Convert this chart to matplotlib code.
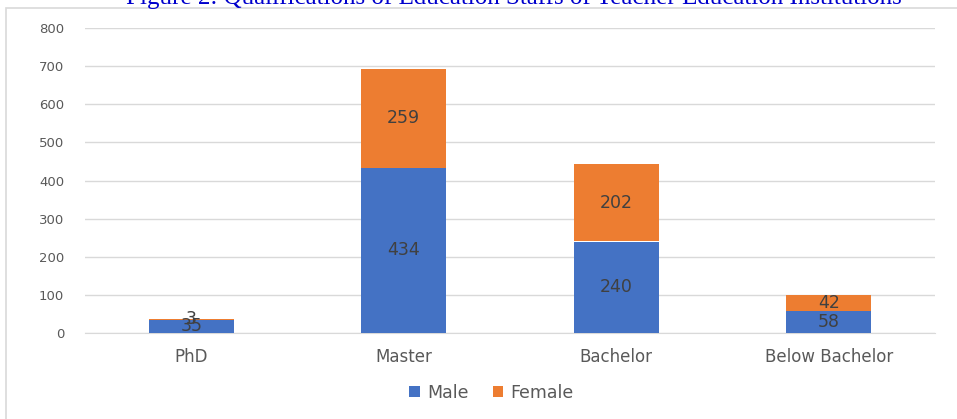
import matplotlib
matplotlib.use("Agg")
import matplotlib.pyplot as plt
from matplotlib.patches import Rectangle
import numpy as np

categories = ["PhD", "Master", "Bachelor", "Below Bachelor"]
male = [35, 434, 240, 58]
female = [3, 259, 202, 42]
yticks = [0, 100, 200, 300, 400, 500, 600, 700, 800]

BLUE = "#4472C4"
ORANGE = "#ED7D31"
GRAY = "#595959"

fig = plt.figure(figsize=(9.57, 4.19), dpi=100)
ax = fig.add_axes([85 / 957, 1 - 333 / 419, 850 / 957, 305 / 419])

# chart area border
fig.patches.append(Rectangle((6 / 957, -0.01), 1.0, 1 - 8 / 419 + 0.01,
                             transform=fig.transFigure, fill=False,
                             edgecolor="#d9d9d9", linewidth=1.2))

x = np.arange(len(categories))
ax.bar(x, male, width=0.4, color=BLUE, label="Male", zorder=3)
ax.bar(x, female, width=0.4, bottom=male, color=ORANGE, label="Female", zorder=3)

for i in range(len(categories)):
    ax.text(x[i], male[i] / 2, str(male[i]), ha="center", va="center",
            fontsize=12.5, color="#404040", zorder=4)
    ax.text(x[i], male[i] + female[i] / 2, str(female[i]), ha="center",
            va="center", fontsize=12.5, color="#404040", zorder=4)

ax.set_xlim(-0.5, len(categories) - 0.5)
ax.set_ylim(0, 800)
ax.set_yticks(yticks)
ax.set_xticks(x)
ax.set_xticklabels(categories, fontsize=12)
ax.tick_params(axis="both", length=0, colors=GRAY)
ax.tick_params(axis="y", pad=15, labelsize=9.5)
ax.tick_params(axis="x", pad=11)
ax.grid(axis="y", color="#d9d9d9", linewidth=1, zorder=0)
for s in ["top", "right", "left"]:
    ax.spines[s].set_visible(False)
ax.spines["bottom"].set_color("#d9d9d9")

ax.legend(loc="center", bbox_to_anchor=(0.478, (393 - 333) / -305),
          ncol=2, frameon=False, fontsize=12.5, labelcolor=GRAY,
          handlelength=0.6, handleheight=0.6, handletextpad=0.4,
          columnspacing=1.4)

fig.text(0.537, 1 - 4 / 419,
         "Figure 2: Qualifications of Education Staffs of Teacher Education Institutions",
         ha="center", va="baseline", fontsize=18, color="#0000CC",
         family="Liberation Serif")

fig.savefig("out.png", dpi=100)
